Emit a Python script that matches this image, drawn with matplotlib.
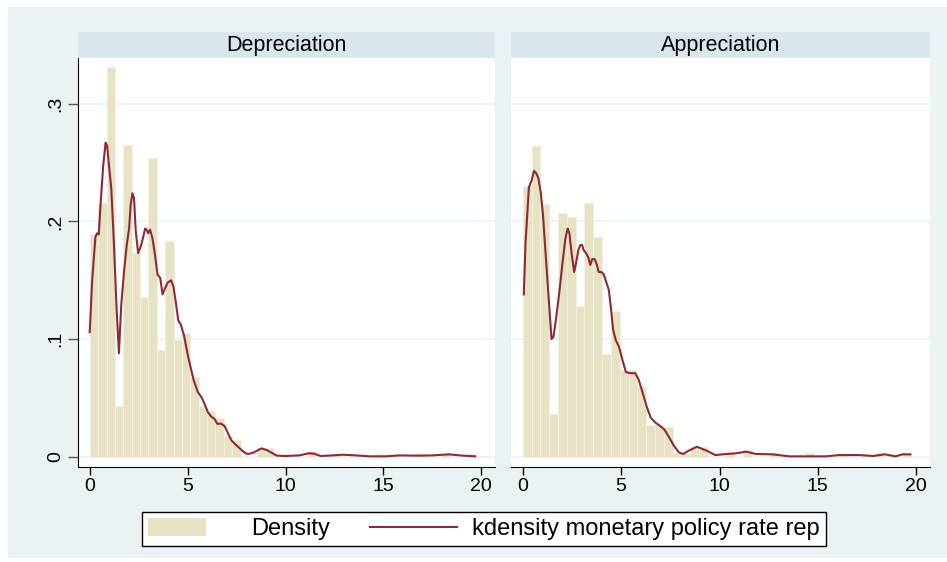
import numpy as np
import matplotlib
matplotlib.use("Agg")
import matplotlib.pyplot as plt
from matplotlib.patches import Rectangle, Patch
from matplotlib.lines import Line2D
from matplotlib.legend_handler import HandlerPatch

plt.rcParams['font.family'] = ['Liberation Sans', 'DejaVu Sans']

# histogram bar heights (density), bins start at 0
dep_width = 0.428
dep_heights = [0.189, 0.216, 0.331, 0.043, 0.265, 0.173, 0.136, 0.254, 0.091, 0.183,
               0.099, 0.105, 0.068, 0.043, 0.039, 0.033, 0.018, 0.014, 0.0, 0.0,
               0.0072, 0.0072, 0.0, 0.0, 0.0, 0.0, 0.0048, 0.0, 0.0, 0.0024,
               0.0, 0.0, 0.0, 0.0, 0.0024, 0.0, 0.0, 0.0, 0.0, 0.0024,
               0.0, 0.0, 0.0024, 0.0, 0.0, 0.0024]
app_width = 0.448
app_heights = [0.230, 0.264, 0.215, 0.036, 0.207, 0.204, 0.128, 0.216, 0.187, 0.087,
               0.124, 0.074, 0.074, 0.060, 0.027, 0.027, 0.025, 0.0029, 0.0029, 0.0086,
               0.0086, 0.0, 0.0, 0.0029, 0.0, 0.0057, 0.0, 0.0, 0.0029, 0.0,
               0.0, 0.0, 0.0029, 0.0, 0.0, 0.0, 0.0029, 0.0, 0.0, 0.0,
               0.0029, 0.0, 0.0, 0.0029]

# kernel density curves
dep_kx = [0.0, 0.12, 0.29, 0.38, 0.46, 0.55, 0.69, 0.81, 0.89, 0.98, 1.10, 1.23, 1.37, 1.49,
          1.61, 1.75, 1.89, 2.01, 2.09, 2.18, 2.26, 2.35, 2.47, 2.61, 2.72, 2.83, 2.91, 2.98,
          3.08, 3.20, 3.33, 3.46, 3.60, 3.72, 3.84, 3.98, 4.15, 4.27, 4.40, 4.52, 4.66, 4.83,
          5.00, 5.18, 5.31, 5.52, 5.73, 5.86, 6.03, 6.21, 6.38, 6.51, 6.72, 6.89, 7.06, 7.23,
          7.40, 7.57, 7.75, 7.95, 8.09, 8.35, 8.77, 9.03, 9.29, 9.55, 10.0, 10.7, 11.2, 11.45,
          11.8, 12.4, 12.9, 13.6, 14.3, 15.1, 15.8, 16.7, 17.5, 18.35, 19.05, 19.69]
dep_ky = [0.106, 0.149, 0.187, 0.190, 0.189, 0.214, 0.248, 0.267, 0.264, 0.248, 0.228, 0.183,
          0.126, 0.088, 0.129, 0.157, 0.180, 0.194, 0.214, 0.224, 0.220, 0.192, 0.173, 0.179,
          0.186, 0.194, 0.193, 0.190, 0.193, 0.186, 0.172, 0.155, 0.152, 0.138, 0.143, 0.148,
          0.150, 0.145, 0.131, 0.116, 0.112, 0.102, 0.087, 0.074, 0.065, 0.055, 0.050, 0.045,
          0.038, 0.034, 0.032, 0.028, 0.028, 0.026, 0.020, 0.014, 0.011, 0.0085, 0.0057, 0.003,
          0.0023, 0.0034, 0.0071, 0.0057, 0.0034, 0.0009, 0.0006, 0.0011, 0.0029, 0.0026,
          0.0006, 0.0011, 0.0017, 0.0011, 0.0003, 0.0003, 0.0011, 0.0009, 0.0011, 0.0020,
          0.0009, 0.0003]
app_kx = [0.05, 0.14, 0.31, 0.45, 0.57, 0.68, 0.79, 0.91, 1.03, 1.17, 1.31, 1.46, 1.56, 1.68,
          1.85, 2.02, 2.16, 2.28, 2.37, 2.48, 2.61, 2.71, 2.83, 2.93, 3.02, 3.08, 3.22, 3.34,
          3.43, 3.53, 3.65, 3.77, 3.86, 4.00, 4.11, 4.25, 4.37, 4.47, 4.59, 4.73, 4.90, 5.07,
          5.24, 5.45, 5.71, 5.88, 6.10, 6.31, 6.51, 6.74, 6.99, 7.20, 7.42, 7.68, 7.93, 8.16,
          8.36, 8.85, 9.35, 9.78, 10.35, 10.85, 11.35, 11.85, 12.7, 13.55, 14.4, 15.4, 16.1,
          17.1, 17.8, 18.4, 18.95, 19.3, 19.70]
app_ky = [0.138, 0.182, 0.229, 0.235, 0.243, 0.241, 0.237, 0.225, 0.205, 0.170, 0.136, 0.100,
          0.102, 0.116, 0.139, 0.165, 0.185, 0.194, 0.190, 0.173, 0.157, 0.165, 0.176, 0.180,
          0.180, 0.176, 0.173, 0.169, 0.163, 0.168, 0.168, 0.163, 0.157, 0.157, 0.155, 0.148,
          0.142, 0.128, 0.108, 0.099, 0.093, 0.082, 0.072, 0.071, 0.071, 0.066, 0.054, 0.042,
          0.033, 0.029, 0.026, 0.023, 0.017, 0.0094, 0.0037, 0.0023, 0.0045, 0.0085, 0.0051,
          0.0014, 0.0023, 0.0029, 0.0043, 0.0023, 0.002, 0.0003, 0.0003, 0.0003, 0.0014,
          0.0014, 0.0006, 0.002, 0.0003, 0.002, 0.002]

panels = [("Depreciation", dep_width, dep_heights, dep_kx, dep_ky),
          ("Appreciation", app_width, app_heights, app_kx, app_ky)]

bar_col = '#E6E2C3'
line_col = '#8C2A35'
bg_col = '#EAF2F3'
strip_col = '#D9E6EB'

fig = plt.figure(figsize=(9.47, 5.62), dpi=100)
fig.patch.set_facecolor('white')
fig.patches.append(Rectangle((8/947, 4/562), 939/947, 551/562, transform=fig.transFigure,
                             facecolor=bg_col, edgecolor='none', zorder=-10))

lefts = [78/947, 511/947]
widths = [417/947, 419/947]
ax_bottom = 95.3/562
ax_height = (504 - 95.3)/562

for i, (title, w, heights, kx, ky) in enumerate(panels):
    ax = fig.add_axes([lefts[i], ax_bottom, widths[i], ax_height])
    ax.set_facecolor('white')
    edges = np.arange(len(heights))*w
    ax.bar(edges, heights, width=w, align='edge', color=bar_col,
           edgecolor='#F2F0E0', linewidth=0.6, zorder=2)
    ax.plot(kx, ky, color=line_col, lw=1.5, zorder=3)
    ax.set_xlim(-0.6, 20.7)
    ax.set_ylim(-0.0085, 0.339)
    ax.set_yticks([0, 0.1, 0.2, 0.3])
    ax.set_xticks([0, 5, 10, 15, 20])
    ax.set_xticklabels(['0', '5', '10', '15', '20'], fontsize=14)
    ax.grid(axis='y', color=bg_col, lw=1.2, zorder=0)
    ax.set_axisbelow(True)
    for s in ['top', 'right']:
        ax.spines[s].set_visible(False)
    ax.spines['bottom'].set_color('black')
    ax.tick_params(axis='x', length=6, width=1, color='black', pad=2)
    if i == 0:
        ax.set_yticklabels(['0', '.1', '.2', '.3'], fontsize=14, rotation=90, va='center')
        ax.tick_params(axis='y', length=7, width=1, color='#555555', pad=3)
        ax.spines['left'].set_color('black')
    else:
        ax.spines['left'].set_visible(False)
        ax.tick_params(axis='y', length=0, labelleft=False)
    # strip title
    fig.patches.append(Rectangle((lefts[i], 504/562), widths[i], 26/562,
                                 transform=fig.transFigure, facecolor=strip_col,
                                 edgecolor='none', zorder=-5))
    fig.text(lefts[i] + widths[i]/2, 517/562, title, ha='center', va='center', fontsize=15.5)


def narrow_patch(legend, orig_handle, xdescent, ydescent, width, height, fontsize):
    return Rectangle((-xdescent, -ydescent), width*0.66, height)


handles = [Patch(facecolor=bar_col, edgecolor='none'),
           Line2D([], [], color=line_col, lw=1.5)]
leg = fig.legend(handles, ['Density', 'kdensity monetary policy rate rep'],
                 loc='center', bbox_to_anchor=(484/947, 33/562), ncol=2, fontsize=17,
                 frameon=True, fancybox=False, edgecolor='black', facecolor='white',
                 framealpha=1, handlelength=3.7, handleheight=0.8, columnspacing=1.7,
                 handletextpad=0.65, borderpad=0.25, borderaxespad=0,
                 handler_map={Patch: HandlerPatch(patch_func=narrow_patch)})
leg.get_frame().set_linewidth(1.0)

plt.savefig('out.png', dpi=100, facecolor=fig.get_facecolor())
